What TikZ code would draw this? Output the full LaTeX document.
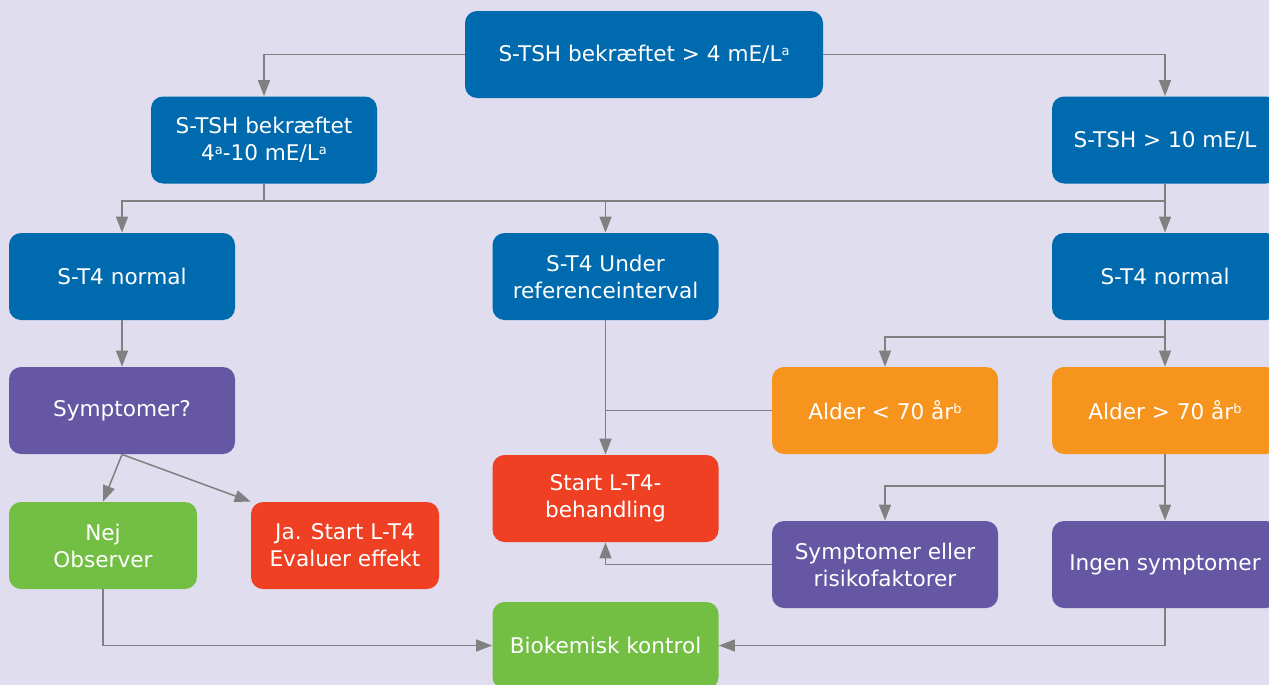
\documentclass[tikz,border=0pt]{standalone}
\usepackage{fontspec}
\setmainfont{DejaVu Sans}
\usetikzlibrary{arrows.meta}
\definecolor{bgpurple}{RGB}{223,221,238}
\definecolor{boxblue}{RGB}{0,106,175}
\definecolor{boxpurple}{RGB}{102,87,164}
\definecolor{boxorange}{RGB}{247,148,29}
\definecolor{boxred}{RGB}{240,64,35}
\definecolor{boxgreen}{RGB}{114,191,68}
\definecolor{linegray}{RGB}{128,128,128}
\newcommand{\supmark}[1]{\raisebox{0.55ex}{\fontsize{6.5}{7}\selectfont #1}}
\tikzset{
    box/.style={rounded corners=6pt, text=white, align=center, inner sep=2pt,
        minimum width=113pt, minimum height=43.5pt,
        font=\fontsize{10.8}{13.5}\selectfont},
    bluebox/.style={box, fill=boxblue},
    purplebox/.style={box, fill=boxpurple},
    orangebox/.style={box, fill=boxorange},
    redbox/.style={box, fill=boxred},
    greenbox/.style={box, fill=boxgreen},
    plainline/.style={draw=linegray, line width=0.75pt},
    arrowline/.style={plainline, -{Triangle[width=6pt,length=8pt]}},
}

\begin{document}
\begin{tikzpicture}[x=0.5pt, y=-0.5pt]
    \useasboundingbox[fill=bgpurple] (0,0) rectangle (1269,685);

    % top rows
    \node[bluebox, minimum width=179pt] (top) at (644,54.5) {S-TSH bekræftet > 4 mE/L\supmark{a}};
    \node[bluebox] (tshmid) at (264,140) {S-TSH bekræftet\\4\supmark{a}-10 mE/L\supmark{a}};
    \node[bluebox] (tshhigh) at (1165,140) {S-TSH > 10 mE/L};
    \node[bluebox] (normleft) at (122,276.5) {S-T4 normal};
    \node[bluebox] (under) at (605.5,276.5) {S-T4 Under\\referenceinterval};
    \node[bluebox] (normright) at (1165,276.5) {S-T4 normal};

    % middle rows
    \node[purplebox] (symp) at (122,410.5) {Symptomer?};
    \node[orangebox] (alderlow) at (885,410.5) {Alder < 70 år\supmark{b}};
    \node[orangebox] (alderhigh) at (1165,410.5) {Alder > 70 år\supmark{b}};
    \node[redbox] (startlt) at (605.5,498.5) {Start L-T4-\\behandling};

    % bottom rows
    \node[greenbox, minimum width=94pt] (nej) at (103,545.5) {Nej\\Observer};
    \node[redbox, minimum width=94pt] (ja) at (345,545.5) {Ja. Start L-T4\\Evaluer effekt};
    \node[purplebox] (sympeller) at (885,564.5) {Symptomer eller\\risikofaktorer};
    \node[purplebox] (ingen) at (1165,564.5) {Ingen symptomer};
    \node[greenbox] (kontrol) at (605.5,645.5) {Biokemisk kontrol};

    \coordinate (split) at (264,201);
    \coordinate (fork) at (1165,337);
    \coordinate (forktwo) at (1165,486);

    % connectors
    \draw[arrowline] (top.west) -| (tshmid.north);
    \draw[arrowline] (top.east) -| (tshhigh.north);
    \draw[plainline] (tshmid.south) |- (tshhigh.south |- split);
    \draw[arrowline] (split) -| (normleft.north);
    \draw[arrowline] (split) -| (under.north);
    \draw[arrowline] (tshhigh) -- (normright);
    \draw[arrowline] (normleft) -- (symp);
    \draw[arrowline] (symp.south) -- (nej.north);
    \draw[arrowline] (symp.south) -- (ja.north west);
    \draw[arrowline] (nej.south) |- (kontrol.west);
    \draw[arrowline] (under) -- (startlt);
    \draw[plainline] (alderlow.west) -- (under.south |- alderlow.west);
    \draw[plainline] (normright.south) -- (fork);
    \draw[arrowline] (fork) -| (alderlow.north);
    \draw[arrowline] (fork) -- (alderhigh.north);
    \draw[plainline] (alderhigh.south) -- (forktwo);
    \draw[arrowline] (forktwo) -| (sympeller.north);
    \draw[arrowline] (forktwo) -- (ingen.north);
    \draw[arrowline] (sympeller.west) -| (startlt.south);
    \draw[arrowline] (ingen.south) |- (kontrol.east);
\end{tikzpicture}
\end{document}
